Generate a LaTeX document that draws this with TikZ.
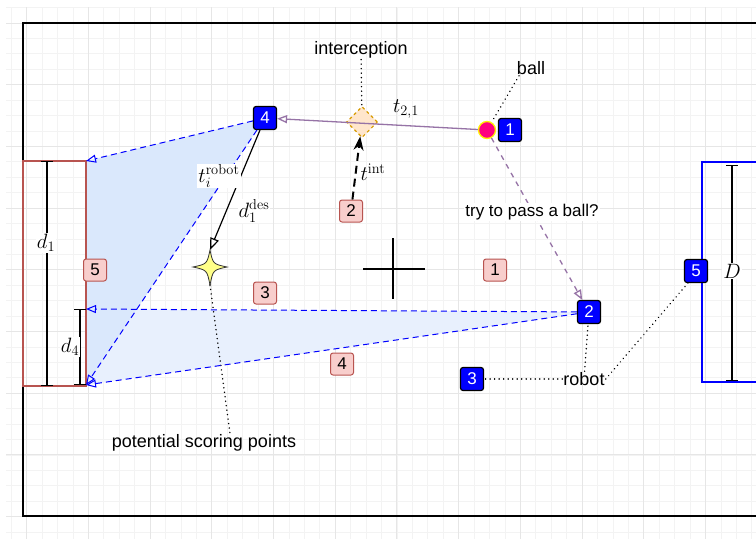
\documentclass[tikz,border=0pt]{standalone}
\usepackage[no-math]{fontspec}
\setmainfont{Liberation Sans}
\usetikzlibrary{arrows.meta,shapes.geometric}
\definecolor{redfill}{HTML}{F8CECC}
\definecolor{redline}{HTML}{B85450}
\definecolor{bluefill}{HTML}{DAE8FC}
\definecolor{bluefilltwo}{HTML}{E8F0FD}
\definecolor{purp}{HTML}{9673A6}
\definecolor{ornfill}{HTML}{FFE6CC}
\definecolor{ornline}{HTML}{D79B00}
\definecolor{ballc}{HTML}{FF0080}
\definecolor{starfill}{HTML}{FFFF88}
\definecolor{gridmajor}{HTML}{E6E6E6}
\definecolor{gridminor}{HTML}{F3F3F3}
\begin{document}
\begin{tikzpicture}[x=1pt,y=-1pt,
  txt/.style={font=\fontsize{18}{21}\selectfont, inner sep=1pt},
  edgetxt/.style={font=\fontsize{17}{20}\selectfont, fill=white, inner sep=1pt},
  mathlbl/.style={font=\fontsize{21.5}{25}\selectfont, inner sep=1pt},
  redtag/.style={draw=redline, fill=redfill, rounded corners=2.5pt, minimum width=23pt, minimum height=22pt, inner sep=0pt, line width=1pt, font=\fontsize{17}{20}\selectfont},
  bluetag/.style={draw=black, fill=blue, text=white, rounded corners=2.5pt, minimum width=23pt, minimum height=23pt, inner sep=0pt, line width=1.2pt, font=\fontsize{17}{20}\selectfont},
  dimline/.style={line width=1.3pt, {Bar[width=12pt]}-{Bar[width=12pt]}},
  dotline/.style={line width=1.6pt, dash pattern=on 0.01pt off 4.5pt, line cap=round},
  bluedash/.style={draw=blue, line width=1pt, dash pattern=on 6pt off 4pt, -{Triangle[open, length=10pt, width=8pt]}},
  openarrow/.style={-{Triangle[open, length=10pt, width=8pt]}}
]
\useasboundingbox (0,0) rectangle (756,539);
\fill[white] (0,0) rectangle (756,539);
% grid
\foreach \i in {0,...,48} {\draw[gridminor, line width=1pt] ({11.3+15.43*\i},7) -- ({11.3+15.43*\i},539);}
\foreach \i in {0,...,34} {\draw[gridminor, line width=1pt] (6,{7.6+15.43*\i}) -- (756,{7.6+15.43*\i});}
\foreach \i in {0,...,12} {\draw[gridmajor, line width=1pt] ({26.7+61.7*\i},7) -- ({26.7+61.7*\i},539);}
\foreach \i in {0,...,8} {\draw[gridmajor, line width=1pt] (6,{23+61.7*\i}) -- (756,{23+61.7*\i});}

% key coordinates
\coordinate (gTR) at (86,161);
\coordinate (gBR) at (86,385);
\coordinate (gMR) at (86,309);
\coordinate (star) at (210,267);
\coordinate (startop) at (210,250);
\coordinate (starbot) at (210,285);

% shaded regions
\fill[bluefilltwo] (577.5,311.9) -- (gMR) -- (gBR) -- (577.5,313.7) -- cycle;
\fill[bluefill] (253.5,120.8) -- (gTR) -- (gBR) -- (257.3,129.5) -- (253.5,129.5) -- cycle;

% field
\draw[line width=1.5pt] (756,23) -- (23,23) -- (23,516) -- (756,516);
\draw[redline, line width=1.5pt] (23,161) rectangle (86,386);
\draw[blue, line width=1.5pt] (756,162) -- (702,162) -- (702,382) -- (756,382);

% dimensions
\draw[dimline] (47,161) -- (47,386);
\node[mathlbl, fill=white] (d1) at (46,243) {$d_1$};
\draw[dimline] (80,309) -- (80,385);
\node[mathlbl, fill=white] (d4) at (70,347) {$d_4$};
\draw[dimline] (732,165) -- (732,381);
\node[mathlbl, fill=white] (dD) at (732,271) {$D$};

% centre cross
\draw[line width=1.3pt] (363,269) -- (425,269);
\draw[line width=1.3pt] (393,238) -- (393,299);

% star
\draw[fill=starfill, draw=black!80, line width=0.8pt]
  (210,250) .. controls (213,264) .. (227,267) .. controls (213,270) .. (210,285)
  .. controls (207,270) .. (193,267) .. controls (207,264) .. cycle;

% nodes
\node[diamond, draw=ornline, fill=ornfill, dashed, line width=1.1pt, minimum width=31pt, minimum height=31pt, inner sep=0pt] (int) at (362,122) {};
\node[circle, fill=ballc, draw=yellow, line width=1.3pt, minimum size=17pt, inner sep=0pt] (ball) at (487,130) {};
\node[bluetag] (b4) at (265,118) {4};
\node[bluetag] (b1) at (510,130) {1};
\node[bluetag] (b2) at (589,312) {2};
\node[bluetag] (b3) at (472,379) {3};
\node[bluetag] (b5) at (696,271) {5};
\node[redtag] (r1) at (495,270) {1};
\node[redtag] (r2) at (351,211) {2};
\node[redtag] (r3) at (265,293) {3};
\node[redtag] (r4) at (342,364) {4};
\node[redtag] (r5) at (95,270) {5};

\node[txt] (tint) at (361,50) {interception};
\node[txt] (tball) at (531,68) {ball};
\node[txt] (trobot) at (584,379) {robot};
\node[txt] (tpsp) at (204,443) {potential scoring points};

% dotted connectors
\draw[dotline] (tint) -- (int);
\draw[dotline] ([xshift=-12pt]tball.south) -- (ball);
\draw[dotline] (trobot) -- (b3);
\draw[dotline] (trobot) -- (b2);
\draw[dotline] (trobot.east) -- ([xshift=4pt]b5.south west);
\draw[dotline] (starbot) -- ([xshift=26pt]tpsp.north);

% blue dashed arrows
\draw[bluedash] (b4) -- (gTR);
\draw[bluedash] (b4) -- (gBR);
\draw[bluedash] (b2) -- (gMR);
\draw[bluedash] (b2) -- (gBR);

% purple arrows
\draw[purp, line width=1.3pt, openarrow] (ball) -- (b4);
\draw[purp, line width=1.3pt, dash pattern=on 5pt off 5pt, openarrow] (ball) -- (b2);

% black arrows
\draw[line width=1.2pt, -{Triangle[open, length=12pt, width=9pt]}] (b4) -- (startop);
\draw[line width=2pt, dash pattern=on 8pt off 5pt, -{Stealth[length=14pt, width=10pt]}] (r2) -- (int);

% labels
\node[mathlbl] (t21) at (406,109) {$t_{2,1}$};
\node[mathlbl] (tintl) at (373,172) {$t^{\mathrm{int}}$};
\node[mathlbl, fill=white] (trob) at (219,176) {$t_i^{\mathrm{robot}}$};
\node[mathlbl, fill=white] (ddes) at (254,211) {$d_1^{\mathrm{des}}$};
\node[edgetxt] (tpass) at (532,212) {try to pass a ball?};
\end{tikzpicture}
\end{document}
